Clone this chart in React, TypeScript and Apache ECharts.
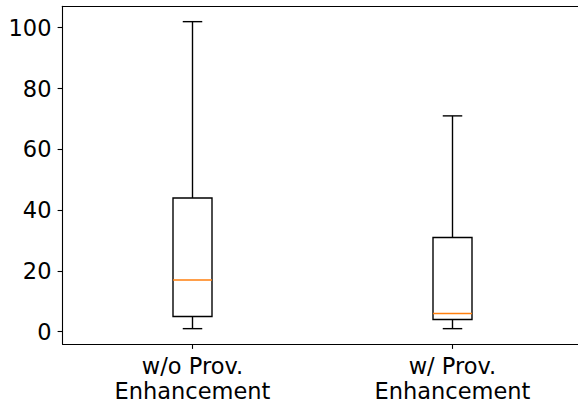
import React, { useEffect, useRef } from "react";
import * as echarts from "echarts";

const categories = ["w/o Prov.\nEnhancement", "w/ Prov.\nEnhancement"];
const positions = [1, 2];
const whiskerLow = [1, 1];
const q1 = [5, 4];
const median = [17, 6];
const q3 = [44, 31];
const whiskerHigh = [102, 71];
const yTicks = [0, 20, 40, 60, 80, 100];

const FONT = "DejaVu Sans";
const GRID_LEFT = 62.5;
const GRID_WIDTH = 578 - GRID_LEFT;
const PX_PER_UNIT = 260;

export default function App() {
  const ref = useRef<HTMLDivElement>(null);
  useEffect(() => {
    if (!ref.current) return;
    const chart = echarts.init(ref.current, undefined, { renderer: "svg" });
    const data = positions.map((p, i) => [p, whiskerLow[i], q1[i], median[i], q3[i], whiskerHigh[i]]);
    const axisStyle = { color: "#000", width: 1.1 };
    chart.setOption({
      animation: false,
      backgroundColor: "#ffffff",
      grid: {
        left: GRID_LEFT,
        top: 6.3,
        width: GRID_WIDTH,
        height: 337.7,
        show: false,
      },
      xAxis: [
        {
          type: "value",
          min: 0.5,
          max: 0.5 + GRID_WIDTH / PX_PER_UNIT,
          axisLine: { show: true, onZero: false, lineStyle: axisStyle },
          axisTick: { show: true, length: 4.9, customValues: positions, lineStyle: axisStyle },
          axisLabel: {
            color: "#000",
            fontFamily: FONT,
            fontSize: 22.5,
            lineHeight: 25.4,
            margin: 9,
            customValues: positions,
            formatter: (v: number) => categories[positions.indexOf(v)] ?? "",
          },
          splitLine: { show: false },
        },
        {
          type: "value",
          position: "top",
          min: 0.5,
          max: 0.5 + GRID_WIDTH / PX_PER_UNIT,
          axisLine: { show: true, onZero: false, lineStyle: axisStyle },
          axisTick: { show: false },
          axisLabel: { show: false },
          splitLine: { show: false },
        },
      ],
      yAxis: {
        type: "value",
        min: -4.05,
        max: 107.05,
        axisLine: { show: true, onZero: false, lineStyle: axisStyle },
        axisTick: { show: true, length: 4.9, customValues: yTicks, lineStyle: axisStyle },
        axisLabel: {
          color: "#000",
          fontFamily: FONT,
          fontSize: 22.5,
          margin: 11,
          customValues: yTicks,
          formatter: (v: number) => String(v),
        },
        splitLine: { show: false },
      },
      series: [
        {
          type: "custom",
          xAxisIndex: 0,
          data,
          encode: { x: 0, y: [1, 2, 3, 4, 5] },
          clip: false,
          renderItem: (params: any, api: any) => {
            const x = api.value(0);
            const unit = api.size([1, 0])[0];
            const half = (unit * 0.15) / 2;
            const capHalf = (unit * 0.075) / 2;
            const pLow = api.coord([x, api.value(1)]);
            const pQ1 = api.coord([x, api.value(2)]);
            const pMed = api.coord([x, api.value(3)]);
            const pQ3 = api.coord([x, api.value(4)]);
            const pHigh = api.coord([x, api.value(5)]);
            const cx = pQ1[0];
            const black = { stroke: "#000", lineWidth: 1.39, fill: "none" };
            return {
              type: "group",
              children: [
                { type: "line", shape: { x1: cx, y1: pQ1[1], x2: cx, y2: pLow[1] }, style: black },
                { type: "line", shape: { x1: cx, y1: pQ3[1], x2: cx, y2: pHigh[1] }, style: black },
                { type: "line", shape: { x1: cx - capHalf, y1: pLow[1], x2: cx + capHalf, y2: pLow[1] }, style: black },
                { type: "line", shape: { x1: cx - capHalf, y1: pHigh[1], x2: cx + capHalf, y2: pHigh[1] }, style: black },
                {
                  type: "rect",
                  shape: { x: cx - half, y: pQ3[1], width: half * 2, height: pQ1[1] - pQ3[1] },
                  style: { stroke: "#000", lineWidth: 1.39, fill: "none" },
                },
                {
                  type: "line",
                  shape: { x1: cx - half, y1: pMed[1], x2: cx + half, y2: pMed[1] },
                  style: { stroke: "#ff7f0e", lineWidth: 1.39 },
                },
              ],
            };
          },
        },
      ],
    });
    return () => chart.dispose();
  }, []);
  return (
    <div
      ref={ref}
      style={{ position: "fixed", left: 0, top: 0, width: 578, height: 406, background: "#fff" }}
    />
  );
}
